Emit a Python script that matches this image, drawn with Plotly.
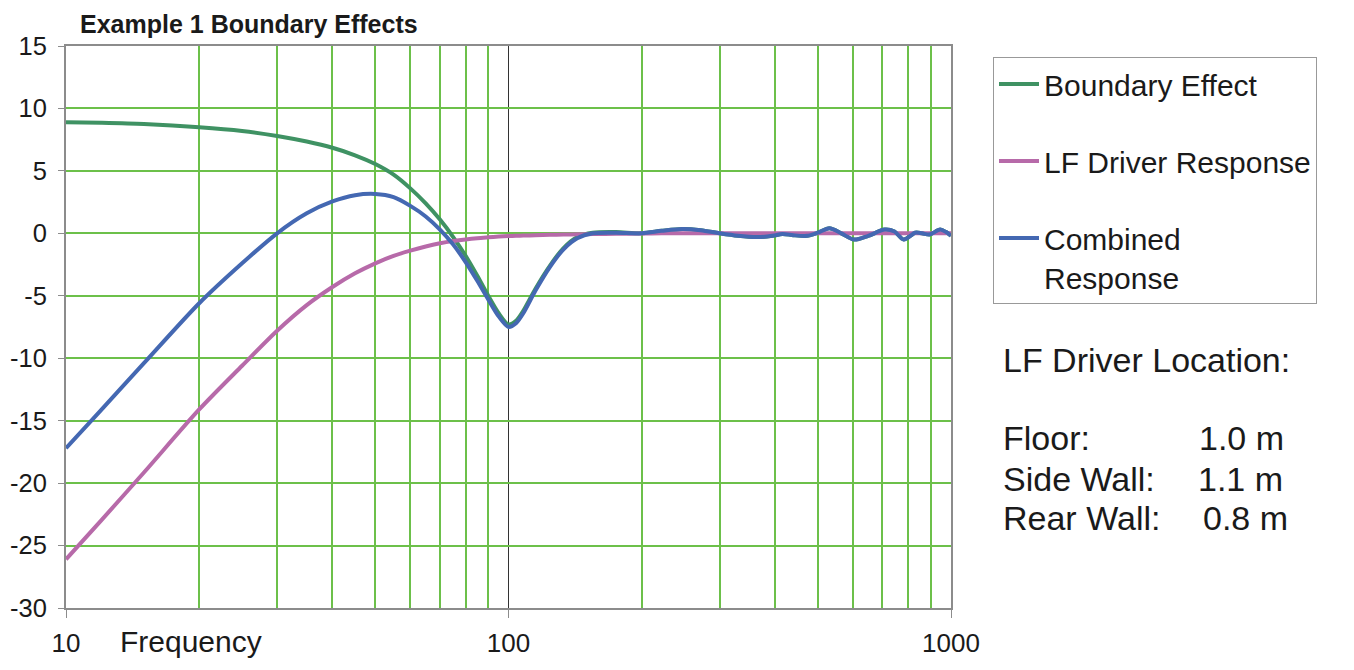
"""Example 1 Boundary Effects: boundary effect, LF driver response and combined response"""
import plotly.graph_objects as go

# colours
COLOR_BOUNDARY = "#3f9263"
COLOR_LF = "#b76aa9"
COLOR_COMBINED = "#4468b2"
COLOR_GRID = "#6cc04a"
COLOR_FRAME = "#8c8c8c"
COLOR_TEXT = "#1a1a1a"
FONT = "Liberation Sans, Arial, sans-serif"

# frequency points (Hz) shared by all three curves
FREQ = [10, 12, 15, 20, 25, 30, 35, 40, 45, 50,
        55, 60, 65, 70, 75, 80, 85, 90, 95, 100,
        104, 108, 115, 124, 133, 143, 155, 175, 200,
        222, 247, 272, 300, 330, 365, 395, 416, 440, 473,
        500, 531, 565, 604, 650, 708, 745, 782, 830, 860,
        894, 945, 975, 1000]

# dB values
BOUNDARY = [8.9, 8.85, 8.75, 8.5, 8.2, 7.8, 7.35, 6.85, 6.25, 5.55,
            4.7, 3.6, 2.4, 1.1, -0.3, -1.8, -3.4, -5.0, -6.4, -7.3,
            -7.0, -6.2, -4.45, -2.6, -1.2, -0.3, 0.05, 0.1, 0.0,
            0.2, 0.35, 0.25, 0.0, -0.2, -0.3, -0.2, -0.05, -0.15, -0.2,
            0.05, 0.4, 0.0, -0.5, -0.2, 0.3, 0.15, -0.5, 0.05, 0.0,
            -0.1, 0.3, 0.1, -0.2]
LF_DRIVER = [-26.1, -23.0, -19.15, -14.1, -10.6, -7.8, -5.75, -4.3, -3.2, -2.4,
             -1.8, -1.38, -1.05, -0.8, -0.62, -0.49, -0.39, -0.32, -0.26, -0.22,
             -0.2, -0.18, -0.15, -0.12, -0.1, -0.08, -0.06, -0.04, -0.02,
             0, 0, 0, 0, 0, 0, 0, 0, 0, 0,
             0, 0, 0, 0, 0, 0, 0, 0, 0, 0,
             0, 0, 0, 0]
COMBINED = [-17.2, -14.15, -10.4, -5.6, -2.4, 0.0, 1.6, 2.55, 3.05, 3.15,
            2.9, 2.2, 1.35, 0.3, -0.9, -2.3, -3.8, -5.3, -6.65, -7.5,
            -7.2, -6.4, -4.6, -2.7, -1.3, -0.4, 0.0, 0.05, 0.0,
            0.2, 0.35, 0.25, 0.0, -0.2, -0.3, -0.2, -0.05, -0.15, -0.2,
            0.05, 0.4, 0.0, -0.5, -0.2, 0.3, 0.15, -0.5, 0.05, 0.0,
            -0.1, 0.3, 0.1, -0.2]

X_TICKS = [10, 100, 1000]
X_MINOR = [20, 30, 40, 50, 60, 70, 80, 90, 200, 300, 400, 500, 600, 700, 800, 900]
Y_TICKS = [-30, -25, -20, -15, -10, -5, 0, 5, 10, 15]

LOCATION = [("Floor:", "1.0 m"), ("Side Wall:", "1.1 m"), ("Rear Wall:", "0.8 m")]

# page body adds an 8px offset, so the figure is 8px smaller and shifted back
PAGE_OFFSET = 8
PLOT_LEFT, PLOT_RIGHT, PLOT_TOP, PLOT_BOTTOM = 66, 951, 46, 608
PLOT_W = PLOT_RIGHT - PLOT_LEFT
PLOT_H = PLOT_BOTTOM - PLOT_TOP


def px_x(x):
    return (x - PLOT_LEFT) / PLOT_W


def px_y(y):
    return (PLOT_BOTTOM - y) / PLOT_H


fig = go.Figure()
for name, values, color in [
    ("Boundary Effect", BOUNDARY, COLOR_BOUNDARY),
    ("LF Driver Response", LF_DRIVER, COLOR_LF),
    ("Combined<br>Response", COMBINED, COLOR_COMBINED),
]:
    fig.add_trace(
        go.Scatter(
            x=FREQ,
            y=values,
            mode="lines",
            name=name,
            legendgroup=name,
            line=dict(color=color, width=4, shape="spline", smoothing=0.8),
        )
    )

fig.update_xaxes(
    type="log",
    range=[1, 3],
    tickvals=X_TICKS,
    ticktext=[str(v) for v in X_TICKS],
    ticks="outside",
    ticklen=8,
    tickcolor=COLOR_FRAME,
    ticklabelstandoff=3,
    showgrid=True,
    gridcolor="#333333",
    gridwidth=1,
    minor=dict(tickvals=X_MINOR, showgrid=True, gridcolor=COLOR_GRID, gridwidth=2, ticks=""),
    showline=True,
    mirror=True,
    linecolor=COLOR_FRAME,
    linewidth=2,
    zeroline=False,
    automargin=False,
    tickfont=dict(size=26, color=COLOR_TEXT),
)
fig.update_yaxes(
    range=[-30, 15],
    tickvals=Y_TICKS,
    ticktext=[str(v) for v in Y_TICKS],
    ticks="outside",
    ticklen=6,
    tickcolor=COLOR_FRAME,
    ticklabelstandoff=6,
    showgrid=True,
    gridcolor=COLOR_GRID,
    gridwidth=2,
    showline=True,
    mirror=True,
    linecolor=COLOR_FRAME,
    linewidth=2,
    zeroline=False,
    automargin=False,
    tickfont=dict(size=25.5, color=COLOR_TEXT),
)

fig.add_annotation(
    text="<b>Example 1 Boundary Effects</b>", xref="paper", yref="paper",
    x=px_x(78), y=px_y(PAGE_OFFSET),
    xanchor="left", yanchor="top", showarrow=False,
    font=dict(size=25, color=COLOR_TEXT),
)
fig.add_annotation(
    text="Frequency", xref="paper", yref="paper", x=px_x(118), y=px_y(641),
    xanchor="left", yanchor="middle", showarrow=False,
    font=dict(size=30, color=COLOR_TEXT),
)
fig.add_annotation(
    text="LF Driver Location:", xref="paper", yref="paper", x=px_x(1001), y=px_y(360),
    xanchor="left", yanchor="middle", showarrow=False,
    font=dict(size=34, color=COLOR_TEXT),
)
row_y = [438, 479, 518]
value_left = [1197, 1196, 1201]
for (label, value), yy, vx in zip(LOCATION, row_y, value_left):
    fig.add_annotation(
        text=label, xref="paper", yref="paper", x=px_x(1001), y=px_y(yy),
        xanchor="left", yanchor="middle", showarrow=False,
        font=dict(size=34, color=COLOR_TEXT),
    )
    fig.add_annotation(
        text=value, xref="paper", yref="paper", x=px_x(vx), y=px_y(yy),
        xanchor="left", yanchor="middle", showarrow=False,
        font=dict(size=34, color=COLOR_TEXT),
    )

fig.update_layout(
    width=1354 - PAGE_OFFSET,
    height=670 - PAGE_OFFSET,
    margin=dict(
        l=PLOT_LEFT - PAGE_OFFSET,
        r=1354 - PLOT_RIGHT,
        t=PLOT_TOP - PAGE_OFFSET,
        b=670 - PLOT_BOTTOM,
    ),
    font=dict(family=FONT, color=COLOR_TEXT),
    plot_bgcolor="white",
    paper_bgcolor="white",
    legend=dict(
        x=px_x(993), y=px_y(57), xanchor="left", yanchor="top",
        bordercolor="#999999", borderwidth=1, bgcolor="white",
        font=dict(size=30, color=COLOR_TEXT),
        tracegroupgap=35, valign="top", traceorder="grouped", itemwidth=40,
    ),
)

fig.write_html("out.html")
